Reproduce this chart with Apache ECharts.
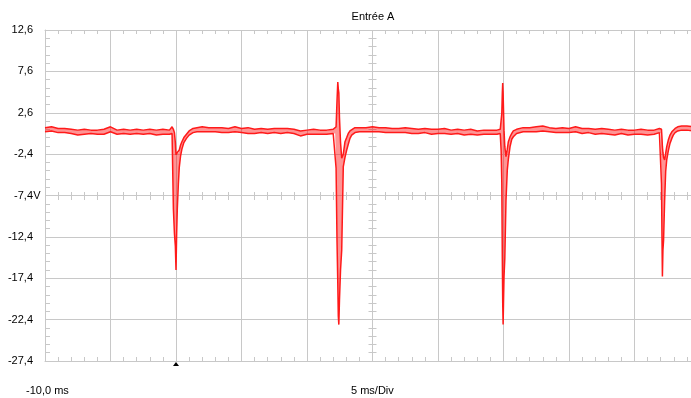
<!DOCTYPE html>
<html>
<head>
<meta charset="utf-8">
<script src="https://cdn.jsdelivr.net/npm/echarts@6/dist/echarts.min.js"></script>
<style>
  html, body { margin: 0; padding: 0; background: #fff; overflow: hidden; }
  /* the scope grid runs a few px past the right edge of the window */
  #chart { width: 700px; height: 398px; }
</style>
</head>
<body>
<div id="chart"></div>
<script>
// time in ms, voltages in V (upper / lower envelope of the trace)
var times = [
  -10, -9.5, -9, -8.5, -8, -7.5, -7, -6.5, -6, -5.5, -5, -4.5, -4, -3.5, -3, -2.5, -2, -1.5, -1, -0.5,
  -0.3, -0.2, -0.12, -0.05, 0.0, 0.05, 0.1, 0.18, 0.25, 0.35, 0.45, 0.6, 0.8, 1.0, 1.3, 1.6, 2.0,
  2.5, 3, 3.5, 4, 4.5, 5, 5.5, 6, 6.5, 7, 7.5, 8, 8.5, 9, 9.5, 10, 10.5, 11, 11.5, 12,
  12.15, 12.22, 12.29, 12.35, 12.39, 12.43, 12.48, 12.56, 12.65, 12.77, 12.9, 13.03, 13.15, 13.28, 13.41, 13.66, 14.0,
  14.5, 15, 15.5, 16, 16.5, 17, 17.5, 18, 18.5, 19, 19.5, 20, 20.5, 21, 21.5, 22, 22.5, 23, 23.5, 24, 24.5, 24.75,
  24.82, 24.87, 24.91, 24.94, 24.97, 25.0, 25.04, 25.1, 25.19, 25.29, 25.37, 25.5, 25.63, 25.75, 26.0,
  26.5, 27, 27.5, 28, 28.5, 29, 29.5, 30, 30.5, 31, 31.5, 32, 32.5, 33, 33.5, 34, 34.5, 35, 35.5, 36, 36.5, 36.9,
  37.0, 37.06, 37.1, 37.13, 37.17, 37.22, 37.3, 37.38, 37.46, 37.58, 37.71, 37.85, 37.96, 38.1, 38.3, 38.6, 39.0, 39.5, 40.0
];
var upper = [
  0.8, 0.9, 0.7, 0.7, 0.6, 0.5, 0.6, 0.5, 0.5, 0.6, 0.9, 0.5, 0.6, 0.5, 0.6, 0.5, 0.6, 0.5, 0.6, 0.5,
  0.9, 0.6, 0.2, -1.0, -2.5, -2.6, -2.2, -2.3, -1.9, -1.3, -0.9, -0.4, 0.0, 0.4, 0.7, 0.8, 0.9,
  0.8, 0.8, 0.8, 0.7, 0.9, 0.7, 0.8, 0.6, 0.7, 0.6, 0.7, 0.7, 0.7, 0.6, 0.4, 0.5, 0.6, 0.5, 0.5, 0.6,
  0.8, 0.9, 4.0, 6.3, 5.5, 5.0, 2.0, -1.0, -2.9, -2.4, -0.9, -0.4, 0.1, 0.4, 0.6, 0.8, 0.8,
  0.8, 0.9, 0.8, 0.8, 0.7, 0.7, 0.8, 0.7, 0.6, 0.7, 0.6, 0.6, 0.7, 0.5, 0.6, 0.5, 0.6, 0.4, 0.5, 0.5, 0.5, 0.6,
  1.7, 2.5, 5.0, 6.2, 5.0, 3.0, 0.5, -1.5, -2.7, -1.8, -0.9, -0.3, 0.1, 0.4, 0.6,
  0.8, 0.8, 0.9, 1.0, 0.8, 0.7, 0.8, 0.7, 0.9, 0.7, 0.7, 0.6, 0.7, 0.6, 0.5, 0.6, 0.5, 0.5, 0.6, 0.5, 0.5, 0.7,
  0.7, 0.6, -0.5, -1.5, -2.2, -2.8, -3.1, -2.3, -1.5, -0.7, -0.1, 0.3, 0.5, 0.7, 0.9, 1.0, 1.0, 0.9, 0.9
];
var lower = [
  0.3, 0.4, 0.2, 0.2, 0.1, -0.1, 0.0, 0.1, 0.0, 0.0, 0.3, 0.0, 0.1, 0.0, 0.1, 0.0, 0.1, -0.1, 0.0, 0.0,
  0.1, -9.0, -12.0, -13.5, -16.4, -12.0, -9.0, -6.0, -4.0, -2.6, -1.8, -1.0, -0.5, -0.1, 0.2, 0.3, 0.3,
  0.3, 0.3, 0.2, 0.2, 0.3, 0.2, 0.1, 0.1, 0.2, 0.1, 0.2, 0.1, 0.2, 0.1, -0.2, 0.0, 0.0, 0.0, 0.0, 0.1,
  0.1, -4.1, -12.8, -18.0, -22.0, -23.0, -20.0, -16.4, -14.0, -3.9, -2.8, -1.9, -1.2, -0.5, -0.1, 0.2, 0.3,
  0.3, 0.3, 0.3, 0.2, 0.2, 0.2, 0.2, 0.1, 0.1, 0.2, 0.0, 0.1, 0.1, 0.0, 0.1, -0.1, 0.0, -0.1, 0.0, 0.0, 0.0, 0.1,
  -2.0, -5.9, -15.0, -20.4, -23.0, -20.4, -17.2, -15.0, -8.0, -4.3, -3.0, -1.5, -0.6, -0.3, 0.1,
  0.3, 0.3, 0.3, 0.4, 0.3, 0.2, 0.2, 0.2, 0.3, 0.1, 0.2, 0.0, 0.1, 0.0, -0.1, 0.1, -0.1, 0.0, 0.0, -0.1, 0.0, 0.2,
  0.1, -6.0, -12.8, -17.2, -14.0, -12.8, -8.0, -4.5, -3.1, -2.0, -1.1, -0.5, -0.1, 0.2, 0.4, 0.5, 0.5, 0.4, 0.4
];
var yMin = -27.4, yMax = 12.6, yStep = 5;
var xMin = -10, xMax = 40, xStep = 5;
var triggerTime = 0;

var gridColor = '#c8c8c8';
var traceColor = '#ff1a1a';
var font = '11px "Liberation Sans", Arial, sans-serif';

var upData = [], lowData = [], envData = [];
for (var i = 0; i < times.length; i++) {
  upData.push([times[i], upper[i]]);
  lowData.push([times[i], lower[i]]);
  envData.push([times[i], upper[i], lower[i]]);
}

var chart = echarts.init(document.getElementById('chart'));

function xAxisBase(extra) {
  return Object.assign({
    type: 'value', min: xMin, max: xMax, interval: xStep, gridIndex: 0,
    axisLine: { show: true, onZero: false, lineStyle: { color: gridColor, width: 1 } },
    axisTick: { show: true, inside: true, length: 4, lineStyle: { color: gridColor } },
    minorTick: { show: true, splitNumber: 5, length: 4, lineStyle: { color: gridColor } },
    axisLabel: { show: false },
    splitLine: { show: false }
  }, extra);
}
function yAxisBase(extra) {
  return Object.assign({
    type: 'value', min: yMin, max: yMax, interval: yStep, gridIndex: 0,
    axisLine: { show: true, onZero: false, lineStyle: { color: gridColor, width: 1 } },
    axisTick: { show: true, inside: true, length: 5, lineStyle: { color: gridColor } },
    minorTick: { show: true, splitNumber: 5, length: 5, lineStyle: { color: gridColor } },
    axisLabel: { show: false },
    splitLine: { show: false }
  }, extra);
}

// filled band between the min and max envelope, one polygon
function renderBand(params, api) {
  if (params.dataIndex !== 0) return null;
  var pts = [];
  for (var i = 0; i < envData.length; i++) pts.push(api.coord([envData[i][0], envData[i][1]]));
  for (var j = envData.length - 1; j >= 0; j--) pts.push(api.coord([envData[j][0], envData[j][2]]));
  return {
    type: 'polygon',
    shape: { points: pts },
    style: { fill: 'rgba(255,0,0,0.42)', stroke: null }
  };
}

chart.setOption({
  animation: false,
  backgroundColor: '#fff',
  grid: { left: 45, top: 30, right: 0, bottom: 37, containLabel: false },
  xAxis: [
    xAxisBase({ position: 'bottom', splitLine: { show: true, lineStyle: { color: gridColor, width: 1 } } }),
    xAxisBase({ position: 'top' }),
    // centre horizontal tick row (at -7,4 V)
    xAxisBase({
      position: 'bottom', offset: -161,
      axisLine: { show: false, onZero: false },
      axisTick: { show: true, inside: true, length: 8, lineStyle: { color: gridColor } },
      minorTick: { show: true, splitNumber: 5, length: 8, lineStyle: { color: gridColor } }
    })
  ],
  yAxis: [
    yAxisBase({
      position: 'left',
      splitLine: { show: true, lineStyle: { color: gridColor, width: 1 } },
      axisLabel: {
        show: true, margin: 4, color: '#000',
        formatter: function (v) {
          var s = v.toFixed(1).replace('.', ',');
          if (Math.abs(v + 7.4) < 0.01) return '{n|' + s + '}{u|V}';
          return '{n|' + s + '}{s|}';
        },
        rich: {
          n: { fontSize: 11, fontFamily: '"Liberation Sans", Arial', color: '#000' },
          u: { fontSize: 11, fontFamily: '"Liberation Sans", Arial', color: '#000', width: 8, align: 'left' },
          s: { width: 8 }
        }
      }
    }),
    // centre vertical tick column (at 15 ms)
    yAxisBase({
      position: 'left', offset: -323.5,
      axisLine: { show: false, onZero: false },
      axisTick: { show: true, inside: true, length: 8, lineStyle: { color: gridColor } },
      minorTick: { show: true, splitNumber: 5, length: 8, lineStyle: { color: gridColor } }
    })
  ],
  graphic: [
    { type: 'text', x: 373, y: 17, style: { text: 'Entrée A', font: font, fill: '#000', align: 'center', verticalAlign: 'middle' } },
    { type: 'text', x: 26, y: 390.5, style: { text: '-10,0 ms', font: font, fill: '#000', align: 'left', verticalAlign: 'middle' } },
    { type: 'text', x: 351, y: 390.5, style: { text: '5 ms/Div', font: font, fill: '#000', align: 'left', verticalAlign: 'middle' } }
  ],
  series: [
    {
      name: 'envelope', type: 'custom', xAxisIndex: 0, yAxisIndex: 0,
      data: envData, encode: { x: 0, y: [1, 2] },
      renderItem: renderBand, z: 2
    },
    {
      name: 'min', type: 'line', xAxisIndex: 0, yAxisIndex: 0,
      data: lowData, symbol: 'none', smooth: false,
      lineStyle: { color: traceColor, width: 1.5 },
      z: 3,
      markPoint: {
        symbol: 'triangle', symbolSize: [6, 4], symbolOffset: [0, 3],
        itemStyle: { color: '#000' }, label: { show: false },
        data: [{ coord: [triggerTime, yMin] }]
      }
    },
    {
      name: 'max', type: 'line', xAxisIndex: 0, yAxisIndex: 0,
      data: upData, symbol: 'none', smooth: false,
      lineStyle: { color: traceColor, width: 1.5 },
      z: 3
    }
  ]
});

window.onresize = function () {
  chart.resize();
};
</script>
</body>
</html>
